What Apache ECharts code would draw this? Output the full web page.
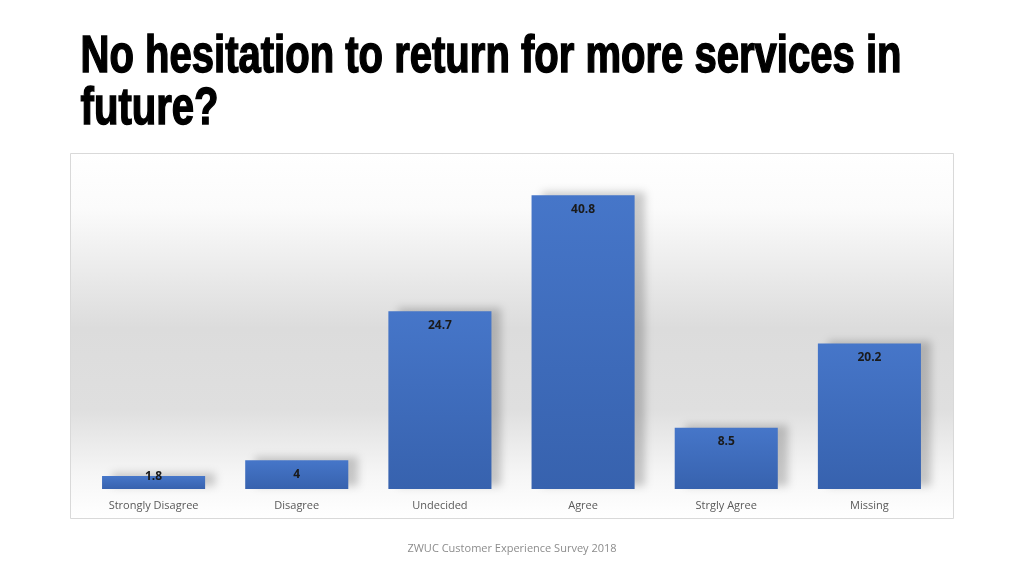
<!DOCTYPE html>
<html>
<head>
<meta charset="utf-8">
<script src="https://cdn.jsdelivr.net/npm/echarts@6/dist/echarts.min.js"></script>
<style>
  html, body { margin: 0; padding: 0; background: #ffffff; }
  #chart { width: 1024px; height: 576px; }
</style>
</head>
<body>
<div id="chart"></div>
<script>
// survey answers, percent
var categories = ['Strongly Disagree', 'Disagree', 'Undecided', 'Agree', 'Strgly Agree', 'Missing'];
var percents = [1.8, 4, 24.7, 40.8, 8.5, 20.2];

var titleText = 'No hesitation to return for more services in\nfuture?';
var footerText = 'ZWUC Customer Experience Survey 2018';

var barData = percents.map(function (v, i)
{
    var item = {value: v};
    // the tiny first bar has its label sitting on its top edge
    if (i === 0) item.label = {position: 'top', distance: -7};
    return item;
});

var myChart = echarts.init(document.getElementById('chart'));

option = {
    backgroundColor: '#ffffff',
    animation: false,
    graphic: [
        {
            type: 'rect',
            z: -10,
            shape: {x: 70.5, y: 153.5, width: 883, height: 365},
            style: {
                fill: new echarts.graphic.LinearGradient(0, 0, 0, 1, [
                    {offset: 0, color: '#ffffff'},
                    {offset: 0.15, color: '#fbfbfb'},
                    {offset: 0.48, color: '#dcdcdc'},
                    {offset: 0.7, color: '#dfdfdf'},
                    {offset: 0.88, color: '#f6f6f6'},
                    {offset: 1, color: '#ffffff'}
                ]),
                stroke: '#d9d9d9',
                lineWidth: 1
            }
        },
        {
            type: 'text',
            left: 80,
            top: 32,
            scaleX: 0.785,
            style: {
                text: titleText,
                fontFamily: 'Liberation Sans',
                fontWeight: 'bold',
                fontSize: 51,
                lineHeight: 52,
                fill: '#000000',
                stroke: '#000000',
                lineWidth: 1.5
            }
        },
        {
            type: 'text',
            left: 'center',
            top: 543,
            style: {
                text: footerText,
                fontFamily: 'Open Sans',
                fontSize: 11,
                fill: '#8c8c8c'
            }
        }
    ],
    grid: {
        left: 82,
        right: 83,
        top: 165,
        bottom: 87
    },
    xAxis: {
        type: 'category',
        data: categories,
        axisLine: {show: false},
        axisTick: {show: false},
        axisLabel: {
            margin: 11,
            fontFamily: 'Open Sans',
            fontSize: 11,
            color: '#595959'
        }
    },
    yAxis: {
        type: 'value',
        min: 0,
        max: 45,
        show: false,
        splitLine: {show: false}
    },
    series: [
        {
            type: 'bar',
            data: barData,
            barWidth: '72%',
            itemStyle: {
                color: new echarts.graphic.LinearGradient(0, 0, 0, 1, [
                    {offset: 0, color: '#4676c9'},
                    {offset: 1, color: '#3762ae'}
                ]),
                shadowColor: 'rgba(0,0,0,0.2)',
                shadowBlur: 8,
                shadowOffsetX: 10,
                shadowOffsetY: -3
            },
            label: {
                show: true,
                position: 'insideTop',
                distance: 8,
                fontFamily: 'Open Sans',
                fontWeight: 'bold',
                fontSize: 12,
                color: '#1a1a1a'
            }
        }
    ]
};
myChart.setOption(option);
</script>
</body>
</html>
